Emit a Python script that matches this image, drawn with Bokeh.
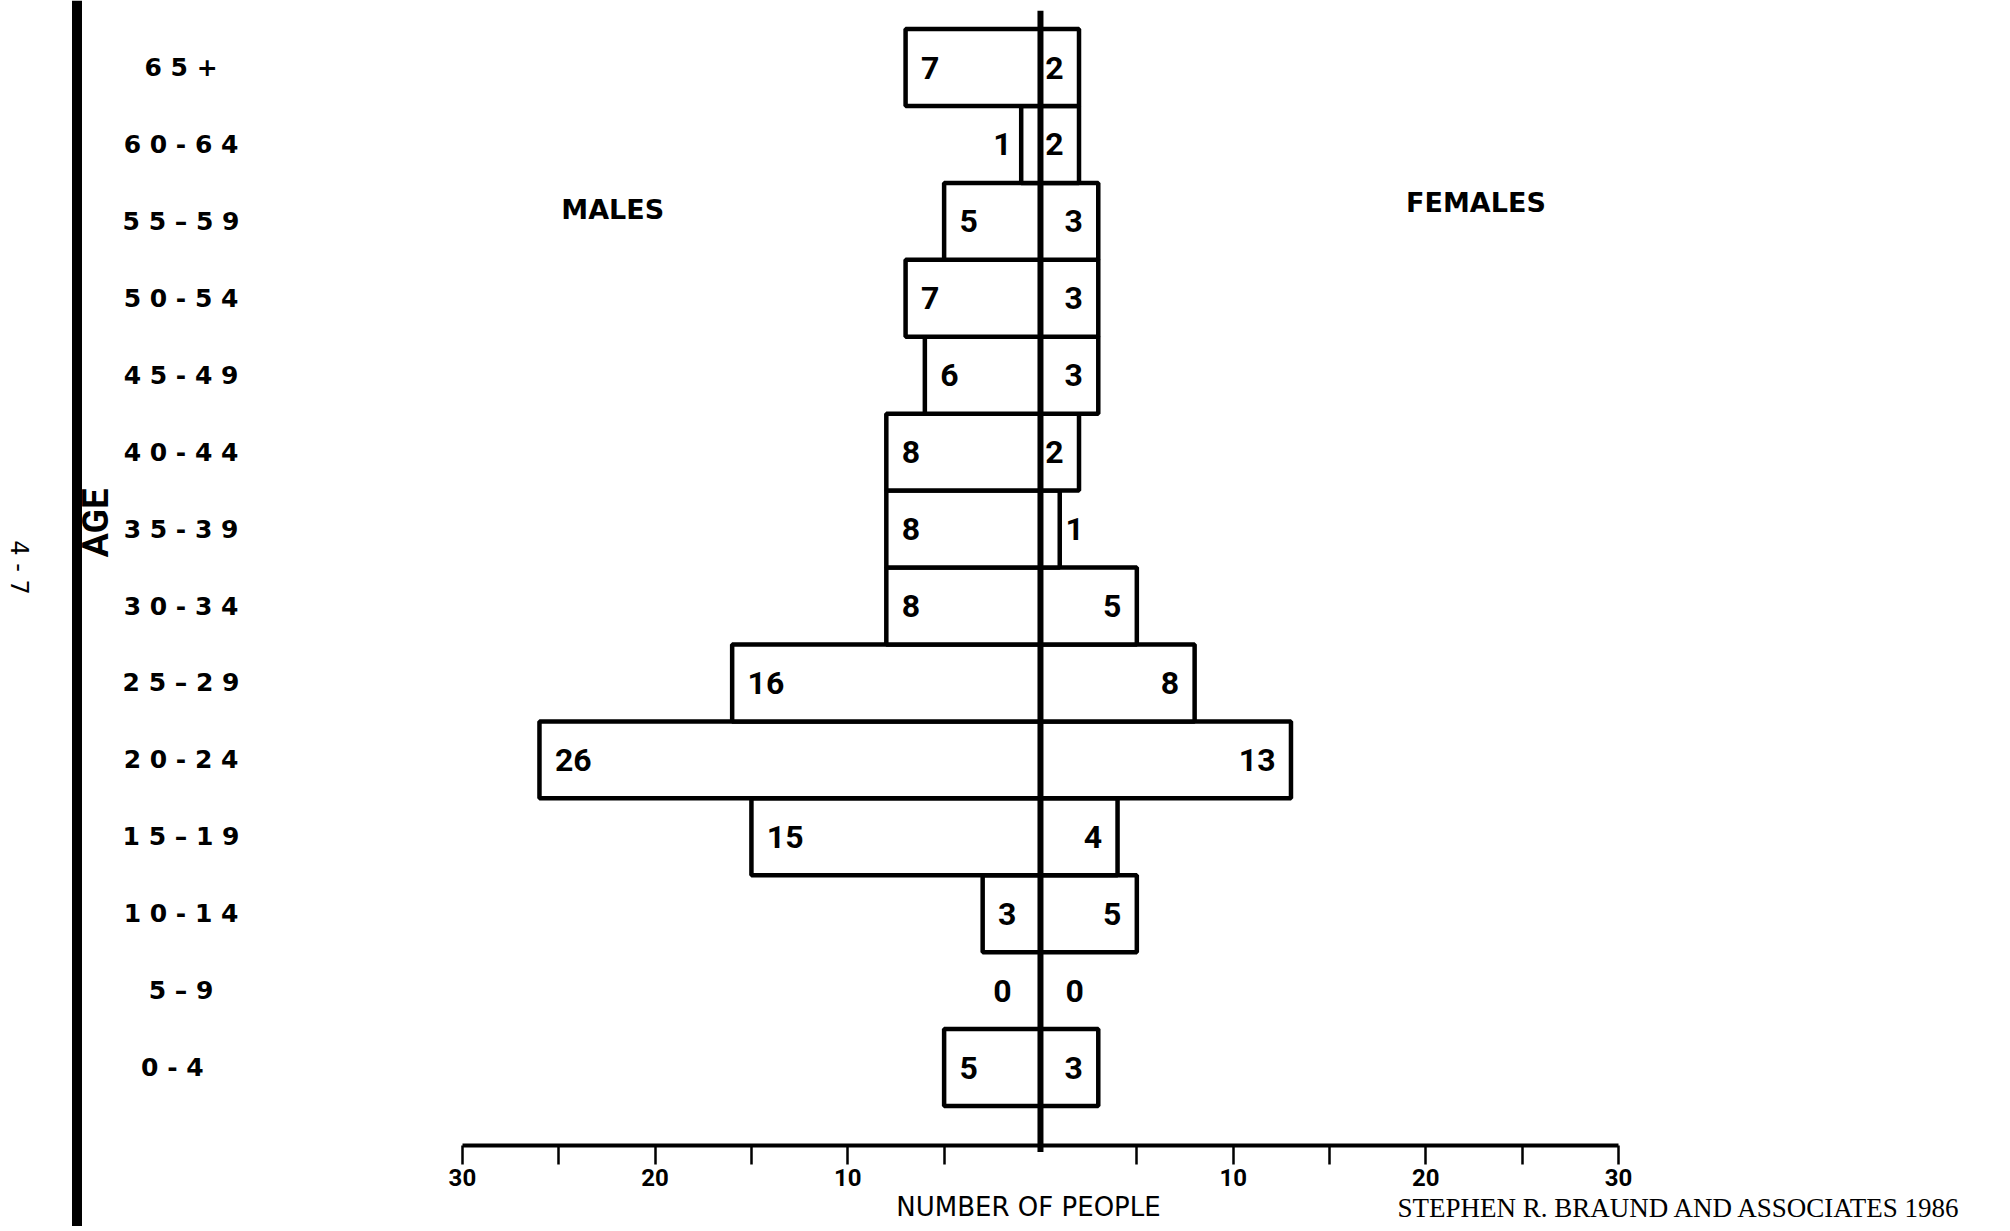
from bokeh.plotting import figure
from bokeh.models import Range1d, FixedTicker, LinearAxis, Span
from bokeh.core.properties import value
from bokeh.embed import file_html
from bokeh.resources import INLINE

# ---------------- data ----------------
AGES = ["0-4", "5-9", "10-14", "15-19", "20-24", "25-29", "30-34",
        "35-39", "40-44", "45-49", "50-54", "55-59", "60-64", "65+"]
AGE_TICK_LABELS = ["0  -  4", "5 – 9", "1 0 - 1 4", "1 5 – 1 9", "2 0 - 2 4",
                   "2 5 – 2 9", "3 0 - 3 4", "3 5 - 3 9", "4 0 - 4 4",
                   "4 5 - 4 9", "5 0 - 5 4", "5 5 – 5 9", "6 0 - 6 4", "6 5 +"]
MALES = [5, 0, 3, 15, 26, 16, 8, 8, 8, 6, 7, 5, 1, 7]
FEMALES = [3, 0, 5, 4, 13, 8, 5, 1, 2, 3, 3, 3, 2, 2]
X_TICKS = [-30, -20, -10, 10, 20, 30]
X_MINOR_TICKS = [-25, -15, -5, 5, 15, 25]
X_TICK_LABELS = ["30", "20", "10", "10", "20", "30"]

NUM_FONT_NAME = "Roboto"
NUM_FONT = value(NUM_FONT_NAME)
SANS = value("DejaVu Sans")

ypos = list(range(len(AGES)))

p = figure(width=1994, height=1226, output_backend="svg", toolbar_location=None,
           x_range=Range1d(-53.97, 49.51), y_range=Range1d(-2.067, 13.872),
           x_axis_type=None, y_axis_type=None, min_border=0,
           outline_line_color=None, background_fill_color="white",
           border_fill_color="white")

# left black rule of the scanned page
p.add_layout(Span(location=-50.0, dimension="height", line_color="black", line_width=10))

# bars
mi = [i for i, v in enumerate(MALES) if v > 0]
fi = [i for i, v in enumerate(FEMALES) if v > 0]
p.quad(left=[-MALES[i] for i in mi], right=[0] * len(mi),
       bottom=[ypos[i] - 0.5 for i in mi], top=[ypos[i] + 0.5 for i in mi],
       fill_color="white", line_color="black", line_width=4.5)
p.quad(left=[0] * len(fi), right=[FEMALES[i] for i in fi],
       bottom=[ypos[i] - 0.5 for i in fi], top=[ypos[i] + 0.5 for i in fi],
       fill_color="white", line_color="black", line_width=4.5)

# central axis line
p.segment(x0=[0], y0=[-1.1], x1=[0], y1=[13.74], line_color="black", line_width=6)

# value labels
for i, v in enumerate(MALES):
    if v >= 3:
        p.text(x=[-v + 0.8], y=[ypos[i]], text=[str(v)], text_align="left",
               text_baseline="middle", text_font=NUM_FONT, text_font_style="bold",
               text_font_size="32px", text_color="black")
    else:
        p.text(x=[-1.5], y=[ypos[i]], text=[str(v)], text_align="right",
               text_baseline="middle", text_font=NUM_FONT, text_font_style="bold",
               text_font_size="32px", text_color="black")
for i, v in enumerate(FEMALES):
    if v >= 2:
        p.text(x=[v - 0.8], y=[ypos[i]], text=[str(v)], text_align="right",
               text_baseline="middle", text_font=NUM_FONT, text_font_style="bold",
               text_font_size="32px", text_color="black")
    else:
        p.text(x=[1.3], y=[ypos[i]], text=[str(v)], text_align="left",
               text_baseline="middle", text_font=NUM_FONT, text_font_style="bold",
               text_font_size="32px", text_color="black")

# age category labels
p.text(x=[-44.6] * len(AGES), y=ypos, text=AGE_TICK_LABELS, text_align="center",
       text_baseline="middle", text_font=SANS, text_font_style="bold",
       text_font_size="25px", text_color="black")

# titles
p.text(x=[-22.2], y=[11.16], text=["MALES"], text_align="center", text_baseline="middle",
       text_font=SANS, text_font_style="bold", text_font_size="27px")
p.text(x=[22.6], y=[11.24], text=["FEMALES"], text_align="center", text_baseline="middle",
       text_font=SANS, text_font_style="bold", text_font_size="27px")
p.text(x=[-49.0], y=[7.08], text=["AGE"], angle=1.5708, text_align="center",
       text_baseline="middle", text_font=NUM_FONT, text_font_style="bold",
       text_font_size="36px")
p.text(x=[-53.0], y=[6.5], text=["4 - 7"], angle=-1.5708, text_align="center",
       text_baseline="middle", text_font=SANS, text_font_size="24px")
p.text(x=[-0.62], y=[-1.81], text=["NUMBER OF PEOPLE"], text_align="center",
       text_baseline="middle", text_font=SANS, text_font_size="26px")
p.text(x=[18.53], y=[-1.83], text=["STEPHEN R. BRAUND AND ASSOCIATES 1986"],
       text_align="left", text_baseline="middle", text_font=value("Liberation Serif"),
       text_font_size="27px")

# x axis
ax = LinearAxis(ticker=FixedTicker(ticks=X_TICKS, minor_ticks=X_MINOR_TICKS),
                fixed_location=-1.014, bounds=(min(X_TICKS), max(X_TICKS)),
                major_label_overrides={t: l for t, l in zip(X_TICKS, X_TICK_LABELS)},
                axis_line_width=4, axis_line_color="black",
                major_tick_out=19, major_tick_in=0, minor_tick_out=19, minor_tick_in=0,
                major_tick_line_width=2.5, minor_tick_line_width=2.5,
                major_tick_line_color="black", minor_tick_line_color="black",
                major_label_standoff=4, major_label_text_font_size="24px",
                major_label_text_font_style="bold", major_label_text_font=NUM_FONT_NAME,
                major_label_text_color="black")
p.add_layout(ax, "below")

open("out.html", "w").write(file_html(p, INLINE))
